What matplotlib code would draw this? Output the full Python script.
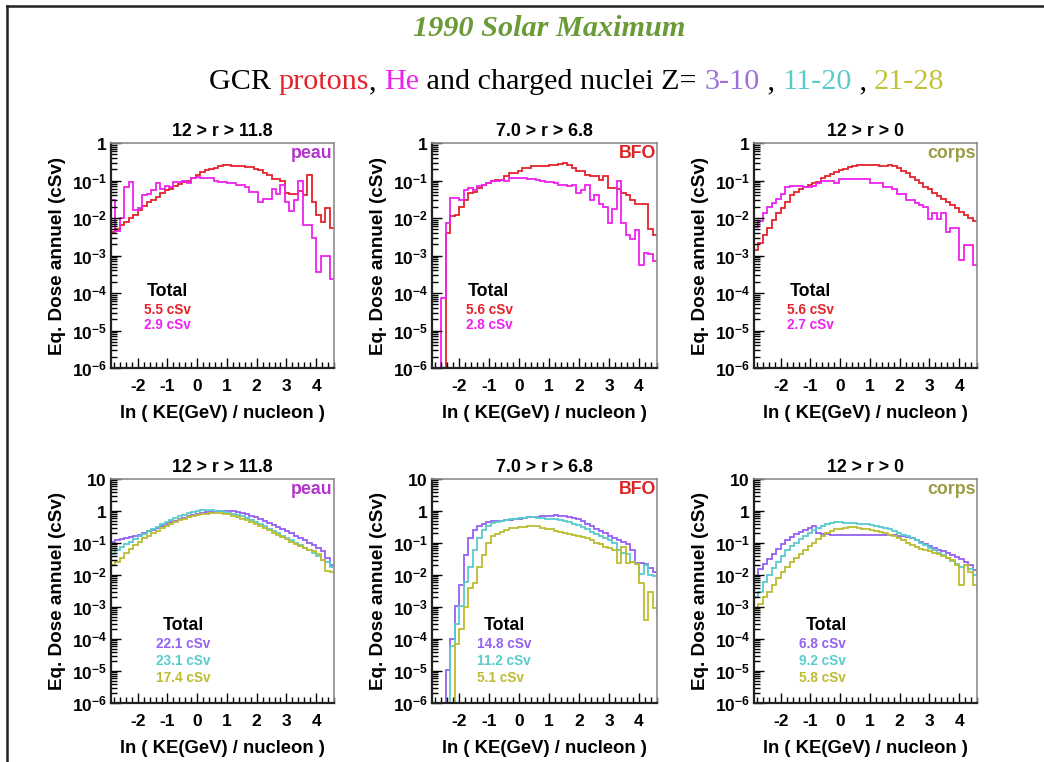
import numpy as np
import matplotlib
matplotlib.use('Agg')
import matplotlib.pyplot as plt
from matplotlib.lines import Line2D
from matplotlib.ticker import FixedLocator, MultipleLocator, LogLocator, FuncFormatter, NullFormatter

plt.rcParams['font.family'] = ['Liberation Sans', 'DejaVu Sans']
plt.rcParams['mathtext.fontset'] = 'custom'
plt.rcParams['mathtext.bf'] = 'Liberation Sans:bold'
plt.rcParams['mathtext.rm'] = 'Liberation Sans:bold'
plt.rcParams['mathtext.it'] = 'Liberation Sans:bold:italic'

# ---------------- data ----------------
x_range = (-2.9, 4.6)
n_bins = 50
edges = np.linspace(x_range[0], x_range[1], n_bins + 1)

FLOOR = 1e-6

# top row: protons (red) and He (magenta)
peau_protons = [0.0043, 0.005, 0.0065, 0.008, 0.0098, 0.012, 0.016, 0.021, 0.026, 0.03,
                0.037, 0.047, 0.056, 0.061, 0.07, 0.079, 0.089, 0.1, 0.12, 0.14,
                0.17, 0.19, 0.2, 0.22, 0.24, 0.26, 0.26, 0.25, 0.25, 0.24,
                0.225, 0.225, 0.2, 0.19, 0.155, 0.14, 0.107, 0.107, 0.1, 0.047,
                0.043, 0.045, 0.054, 0.04, 0.14, 0.0275, 0.012, 0.0076, 0.019, 0.0053]
peau_he = [0.03, 0.0046, 0.0098, 0.066, 0.089, 0.016, 0.019, 0.041, 0.045, 0.056,
           0.084, 0.058, 0.071, 0.066, 0.093, 0.093, 0.1, 0.085, 0.114, 0.126,
           0.12, 0.12, 0.12, 0.1, 0.093, 0.093, 0.084, 0.084, 0.076, 0.076,
           0.069, 0.05, 0.05, 0.027, 0.0315, 0.0315, 0.058, 0.045, 0.076, 0.027,
           0.015, 0.03, 0.1, 0.0065, 0.0065, 0.003, 0.00037, 0.001, 0.001, 0.00023]

bfo_protons = [FLOOR, FLOOR, FLOOR, 0.004, 0.011, 0.012, 0.02, 0.031, 0.046, 0.05,
               0.063, 0.077, 0.086, 0.095, 0.105, 0.105, 0.13, 0.16, 0.16, 0.175,
               0.215, 0.215, 0.24, 0.24, 0.25, 0.25, 0.26, 0.26, 0.27, 0.29,
               0.26, 0.22, 0.175, 0.175, 0.14, 0.13, 0.13, 0.105, 0.13, 0.063,
               0.063, 0.06, 0.046, 0.04, 0.03, 0.023, 0.023, 0.023, 0.005, 0.0036]
bfo_he = [FLOOR, FLOOR, 7.4e-5, 0.0074, 0.034, 0.034, 0.03, 0.057, 0.063, 0.057,
          0.07, 0.077, 0.086, 0.095, 0.1, 0.105, 0.1, 0.117, 0.117, 0.12,
          0.12, 0.11, 0.11, 0.105, 0.1, 0.09, 0.09, 0.085, 0.077, 0.077,
          0.07, 0.077, 0.046, 0.055, 0.077, 0.031, 0.04, 0.023, 0.02, 0.0074,
          0.017, 0.1, 0.0074, 0.0036, 0.0027, 0.0049, 0.00057, 0.0012, 0.0011, 0.0007]

corps_protons = [0.0014, 0.0021, 0.0035, 0.0053, 0.0088, 0.0133, 0.019, 0.027, 0.041, 0.05,
                 0.058, 0.066, 0.076, 0.084, 0.093, 0.114, 0.13, 0.149, 0.169, 0.19,
                 0.207, 0.224, 0.244, 0.26, 0.26, 0.26, 0.26, 0.26, 0.25, 0.25,
                 0.26, 0.24, 0.21, 0.18, 0.155, 0.126, 0.103, 0.084, 0.069, 0.058,
                 0.047, 0.039, 0.033, 0.027, 0.022, 0.018, 0.0148, 0.012, 0.0099, 0.0085]
corps_he = [0.0059, 0.0082, 0.0135, 0.02, 0.025, 0.032, 0.045, 0.069, 0.071, 0.071,
            0.071, 0.066, 0.066, 0.071, 0.084, 0.097, 0.097, 0.097, 0.084, 0.107,
            0.107, 0.107, 0.107, 0.107, 0.107, 0.107, 0.084, 0.084, 0.084, 0.069,
            0.069, 0.06, 0.045, 0.045, 0.03, 0.03, 0.025, 0.022, 0.02, 0.0092,
            0.0133, 0.0092, 0.0133, 0.0043, 0.0053, 0.0053, 0.00076, 0.0019, 0.0019, 0.00056]

# bottom row: Z=3-10 (purple), 11-20 (cyan), 21-28 (olive)
peau_z3_10 = [0.11, 0.12, 0.13, 0.14, 0.15, 0.16, 0.18, 0.2, 0.23, 0.26,
              0.3, 0.34, 0.39, 0.44, 0.5, 0.56, 0.62, 0.68, 0.74, 0.8,
              0.86, 0.92, 0.96, 1.0, 1.02, 1.03, 1.0, 0.97, 0.92, 0.86,
              0.8, 0.72, 0.64, 0.56, 0.49, 0.42, 0.36, 0.31, 0.27, 0.23,
              0.2, 0.17, 0.14, 0.12, 0.1, 0.085, 0.07, 0.055, 0.035, 0.02]
peau_z11_20 = [0.045, 0.06, 0.075, 0.09, 0.11, 0.13, 0.16, 0.19, 0.23, 0.27,
               0.32, 0.38, 0.45, 0.52, 0.6, 0.68, 0.77, 0.86, 0.95, 1.02,
               1.06, 1.06, 1.05, 1.02, 0.98, 0.94, 0.89, 0.82, 0.75, 0.68,
               0.6, 0.52, 0.45, 0.39, 0.33, 0.28, 0.24, 0.2, 0.17, 0.14,
               0.12, 0.1, 0.085, 0.072, 0.06, 0.05, 0.04, 0.03, 0.025, 0.018]
peau_z21_28 = [0.02, 0.025, 0.035, 0.05, 0.065, 0.085, 0.11, 0.14, 0.17, 0.2,
               0.24, 0.29, 0.34, 0.4, 0.46, 0.52, 0.58, 0.64, 0.7, 0.75,
               0.79, 0.82, 0.84, 0.85, 0.84, 0.82, 0.78, 0.72, 0.65, 0.58,
               0.51, 0.45, 0.39, 0.34, 0.29, 0.25, 0.21, 0.18, 0.155, 0.13,
               0.11, 0.095, 0.08, 0.07, 0.06, 0.055, 0.045, 0.03, 0.013, 0.012]

bfo_z3_10 = [FLOOR, FLOOR, FLOOR, 1.1e-5, 1e-4, 0.0011, 0.005, 0.042, 0.14, 0.25,
             0.34, 0.4, 0.45, 0.48, 0.5, 0.5, 0.52, 0.52, 0.55, 0.58,
             0.6, 0.63, 0.65, 0.67, 0.69, 0.7, 0.72, 0.74, 0.72, 0.7,
             0.66, 0.6, 0.55, 0.48, 0.4, 0.34, 0.28, 0.24, 0.2, 0.16,
             0.14, 0.12, 0.11, 0.09, 0.06, 0.023, 0.023, 0.022, 0.016, 0.012]
bfo_z11_20 = [FLOOR, FLOOR, FLOOR, FLOOR, 6e-5, 0.0003, 0.0011, 0.006, 0.018, 0.06,
              0.14, 0.25, 0.34, 0.42, 0.46, 0.5, 0.52, 0.55, 0.57, 0.6,
              0.62, 0.63, 0.63, 0.62, 0.6, 0.58, 0.57, 0.55, 0.52, 0.48,
              0.45, 0.4, 0.36, 0.32, 0.27, 0.22, 0.19, 0.16, 0.14, 0.12,
              0.1, 0.06, 0.05, 0.045, 0.025, 0.022, 0.011, 0.02, 0.01, 0.009]
bfo_z21_28 = [FLOOR, FLOOR, FLOOR, FLOOR, FLOOR, 7e-5, 0.0002, 0.001, 0.0038, 0.0055,
              0.018, 0.042, 0.098, 0.16, 0.19, 0.22, 0.25, 0.29, 0.3, 0.31,
              0.31, 0.33, 0.34, 0.33, 0.3, 0.28, 0.27, 0.24, 0.22, 0.21,
              0.19, 0.18, 0.17, 0.15, 0.14, 0.12, 0.1, 0.09, 0.075, 0.068,
              0.06, 0.023, 0.075, 0.024, 0.026, 0.022, 0.0055, 0.0004, 0.003, 0.0009]

corps_z3_10 = [0.0095, 0.015, 0.022, 0.032, 0.045, 0.065, 0.09, 0.12, 0.15, 0.19,
               0.22, 0.26, 0.3, 0.33, 0.2, 0.19, 0.19, 0.18, 0.18, 0.18,
               0.18, 0.18, 0.18, 0.18, 0.18, 0.18, 0.18, 0.18, 0.18, 0.18,
               0.18, 0.175, 0.17, 0.16, 0.15, 0.14, 0.12, 0.105, 0.095, 0.08,
               0.07, 0.062, 0.055, 0.048, 0.042, 0.037, 0.032, 0.026, 0.02, 0.014]
corps_z11_20 = [0.002, 0.003, 0.006, 0.01, 0.016, 0.025, 0.04, 0.06, 0.08, 0.1,
                0.13, 0.17, 0.21, 0.26, 0.3, 0.34, 0.38, 0.42, 0.45, 0.45,
                0.43, 0.42, 0.42, 0.4, 0.4, 0.38, 0.36, 0.34, 0.32, 0.3,
                0.27, 0.24, 0.21, 0.18, 0.16, 0.14, 0.12, 0.1, 0.085, 0.07,
                0.06, 0.05, 0.042, 0.035, 0.028, 0.022, 0.018, 0.02, 0.015, 0.01]
corps_z21_28 = [0.0008, 0.0012, 0.002, 0.003, 0.005, 0.008, 0.012, 0.018, 0.025, 0.035,
                0.045, 0.06, 0.08, 0.1, 0.13, 0.17, 0.2, 0.24, 0.27, 0.28,
                0.3, 0.32, 0.32, 0.3, 0.28, 0.27, 0.26, 0.24, 0.22, 0.2,
                0.18, 0.16, 0.14, 0.12, 0.1, 0.085, 0.075, 0.065, 0.06, 0.055,
                0.05, 0.045, 0.04, 0.035, 0.03, 0.02, 0.005, 0.02, 0.012, 0.005]

panel_titles = ['12 > r > 11.8', '7.0 > r > 6.8', '12 > r > 0']
region_names = ['peau', 'BFO', 'corps']
top_totals = [['5.5 cSv', '2.9 cSv'], ['5.6 cSv', '2.8 cSv'], ['5.6 cSv', '2.7 cSv']]
bottom_totals = [['22.1 cSv', '23.1 cSv', '17.4 cSv'],
                 ['14.8 cSv', '11.2 cSv', '5.1 cSv'],
                 ['6.8 cSv', '9.2 cSv', '5.8 cSv']]
top_series = [[peau_protons, peau_he], [bfo_protons, bfo_he], [corps_protons, corps_he]]
bottom_series = [[peau_z3_10, peau_z11_20, peau_z21_28],
                 [bfo_z3_10, bfo_z11_20, bfo_z21_28],
                 [corps_z3_10, corps_z11_20, corps_z21_28]]
x_ticks = [-2, -1, 0, 1, 2, 3, 4]

# ---------------- style ----------------
RED = '#e3232b'
MAG = '#ee22ee'
PUR = '#9461f2'
CYA = '#58cccc'
OLI = '#bcbc32'
top_colors = [RED, MAG]
bot_colors = [PUR, CYA, OLI]
region_colors = ['#b534cc', '#dd2222', '#9c9c45']

W, H = 1044, 762
fig = plt.figure(figsize=(W / 100, H / 100), dpi=100)

col_px = [(111, 223), (432, 225), (754, 223)]
rows_px = [(143, 368), (479, 703)]


def fmt_log(v, pos):
    e = int(round(np.log10(v)))
    if e == 0:
        return r'$\mathbf{1}$'
    if e == 1:
        return r'$\mathbf{10}$'
    return r'$\mathbf{10^{%d}}$' % e


def style_axes(ax, ymax):
    ax.set_yscale('log')
    ax.set_xlim(x_range)
    ax.set_ylim(1e-6, ymax)
    ax.xaxis.set_major_locator(FixedLocator(x_ticks))
    ax.xaxis.set_minor_locator(MultipleLocator(0.2))
    ax.set_xticklabels([str(t) for t in x_ticks], fontweight='bold')
    decades = 10.0 ** np.arange(-6, int(round(np.log10(ymax))) + 1)
    ax.yaxis.set_major_locator(FixedLocator(decades))
    ax.yaxis.set_minor_locator(LogLocator(base=10, subs=np.arange(2, 10), numticks=20))
    ax.yaxis.set_major_formatter(FuncFormatter(fmt_log))
    ax.yaxis.set_minor_formatter(NullFormatter())
    ax.tick_params(axis='both', which='both', direction='in', top=False, right=False,
                   labelsize=12.5, width=1.0)
    ax.tick_params(axis='both', which='major', length=7)
    ax.tick_params(axis='both', which='minor', length=4)
    ax.tick_params(axis='x', pad=8)
    ax.tick_params(axis='y', pad=3)
    for s in ['left', 'bottom']:
        ax.spines[s].set_linewidth(1.6)
        ax.spines[s].set_color('#222222')
    for s in ['top', 'right']:
        ax.spines[s].set_linewidth(1.2)
        ax.spines[s].set_color('#8c8c8c')
    ax.set_xlabel('ln ( KE(GeV) / nucleon )', fontsize=13.3, fontweight='bold', labelpad=8)
    ax.set_ylabel('Eq. Dose annuel (cSv)', fontsize=13.6, fontweight='bold', labelpad=4)


for r, (ytop, ybot) in enumerate(rows_px):
    for c, (xl, wd) in enumerate(col_px):
        ax = fig.add_axes([xl / W, 1 - ybot / H, wd / W, (ybot - ytop) / H])
        if r == 0:
            series, colors, totals, ymax = top_series[c], top_colors, top_totals[c], 1.0
        else:
            series, colors, totals, ymax = bottom_series[c], bot_colors, bottom_totals[c], 10.0
        for vals, col in zip(series, colors):
            ax.stairs(vals, edges, baseline=None, color=col, lw=1.3)
        style_axes(ax, ymax)
        ax.set_title(panel_titles[c], fontsize=12.8, fontweight='bold', pad=5)
        ax.text(0.995, 0.955, region_names[c], transform=ax.transAxes, ha='right', va='center',
                fontsize=12.8, fontweight='bold', color=region_colors[c])
        if r == 0:
            tx, ty, vx, vy, dy = 0.16, 0.338, 0.15, 0.258, 0.068
        else:
            tx, ty, vx, vy, dy = 0.232, 0.348, 0.2, 0.263, 0.076
        ax.text(tx, ty, 'Total', transform=ax.transAxes, ha='left', va='center',
                fontsize=12.8, fontweight='bold', color='black')
        for k, (lab, col) in enumerate(zip(totals, colors)):
            ax.text(vx, vy - k * dy, lab, transform=ax.transAxes, ha='left', va='center',
                    fontsize=9.8, fontweight='bold', color=col)

# ---------------- page titles ----------------
fig.text(549 / W, 1 - 29 / H, '1990 Solar Maximum', ha='center', va='center',
         fontfamily='Liberation Serif', fontstyle='italic', fontweight='bold',
         fontsize=21.8, color='#6b9a38')

pieces = [('GCR ', 'black'), ('protons', RED), (', ', 'black'), ('He', MAG),
          (' and charged nuclei Z= ', 'black'), ('3-10', '#9a70dc'), (' , ', 'black'),
          ('11-20', '#5ccaca'), (' , ', 'black'), ('21-28', '#c2c23a')]
sub_size = 21.7
renderer = fig.canvas.get_renderer()
tmp = [fig.text(0, 0, t, fontfamily='Liberation Serif', fontsize=sub_size) for t, _ in pieces]
widths = [t.get_window_extent(renderer).width for t in tmp]
for t in tmp:
    t.remove()
total_w = sum(widths)
x0 = 577 - total_w / 2
for (t, col), w in zip(pieces, widths):
    fig.text(x0 / W, 1 - 82 / H, t, ha='left', va='center', fontfamily='Liberation Serif',
             fontsize=sub_size, color=col)
    x0 += w

# page frame (top and left edges)
fig.add_artist(Line2D([7 / W, 1], [1 - 6 / H, 1 - 6 / H], color='#222222', lw=1.8))
fig.add_artist(Line2D([7 / W, 7 / W], [0, 1 - 6 / H], color='#222222', lw=1.8))

fig.savefig('out.png', dpi=100)
